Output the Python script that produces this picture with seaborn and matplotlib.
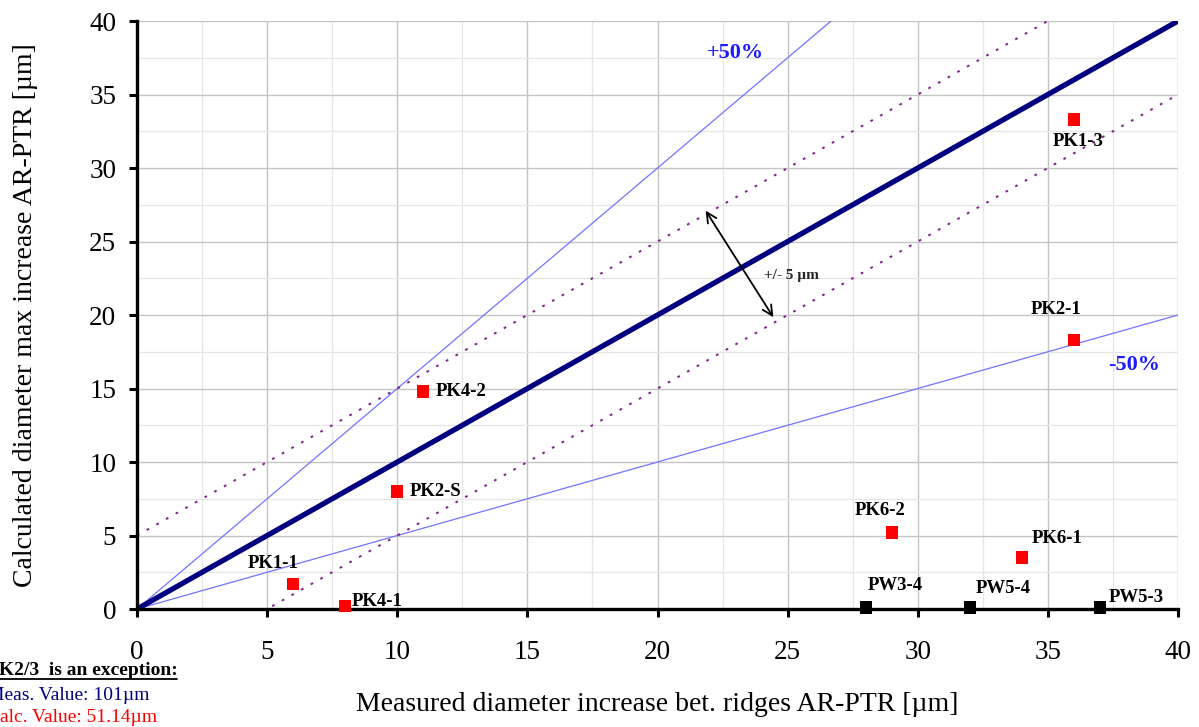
import matplotlib
matplotlib.use("Agg")
import matplotlib.pyplot as plt
from matplotlib.lines import Line2D
import numpy as np
import pandas as pd
import seaborn as sns

# Sample measurements: measured vs calculated diameter increase [µm]
labels = ["PK1-1", "PK4-1", "PK2-S", "PK4-2", "PK6-2", "PK6-1", "PK2-1", "PK1-3",
          "PW3-4", "PW5-4", "PW5-3"]
measured = [6, 8, 10, 11, 29, 34, 36, 36, 28, 32, 37]
calculated = [1.7, 0.2, 8.0, 14.8, 5.2, 3.5, 18.3, 33.3, 0.1, 0.1, 0.1]
series = ["PK"] * 8 + ["PW"] * 3

# Reference lines: ideal, +/-50 %, +/-5 µm band
ref_x = [0, 40]
ideal = [0, 40]
plus50_x, plus50_y = [0, 40], [0, 60]
minus50_x, minus50_y = [0, 40], [0, 20]
band_x = [0, 40]
band_hi = [5, 45]
band_lo = [-5, 35]

df = pd.DataFrame({"label": labels, "meas": measured, "calc": calculated, "series": series})

sns.set_theme(style="white")
plt.rcParams["font.family"] = ["Liberation Serif", "DejaVu Serif"]

fig = plt.figure(figsize=(11.99, 7.27), dpi=100)
ax = fig.add_axes([0.1143, 0.1623, 0.9825 - 0.1143, 0.9711 - 0.1623])

# grid
ax.set_xticks(np.arange(0, 41, 5))
ax.set_yticks(np.arange(0, 41, 5))
ax.set_xticks(np.arange(0, 41, 2.5), minor=True)
ax.set_yticks(np.arange(0, 41, 2.5), minor=True)
ax.grid(True, which="major", color="#c4c4c4", lw=1.0, zorder=0)
ax.grid(True, which="minor", color="#e6e6e6", lw=0.9, zorder=0)
ax.set_axisbelow(True)

sns.lineplot(x=plus50_x, y=plus50_y, color="#7373ff", lw=0.9, ax=ax, zorder=2)
sns.lineplot(x=minus50_x, y=minus50_y, color="#7373ff", lw=0.9, ax=ax, zorder=2)
sns.lineplot(x=band_x, y=band_hi, color="#80208a", lw=1.4, ax=ax, zorder=2,
             linestyle=(0, (1.4, 4.3)))
sns.lineplot(x=band_x, y=band_lo, color="#80208a", lw=1.4, ax=ax, zorder=2,
             linestyle=(0, (1.4, 4.3)))
sns.lineplot(x=ref_x, y=ideal, color="#000080", lw=3.8, ax=ax, zorder=3)

sns.scatterplot(data=df, x="meas", y="calc", hue="series",
                palette={"PK": "#ff0000", "PW": "#000000"},
                marker="s", s=78, linewidth=0, legend=False, ax=ax, zorder=5,
                clip_on=False)

# point labels: left-edge offsets from the marker, in points
offsets = {
    "PK1-1": (-33, 15), "PK4-1": (5, 3), "PK2-S": (9, 0), "PK4-2": (9, 0),
    "PK6-2": (-27, 16), "PK6-1": (7, 14), "PK2-1": (-31, 22), "PK1-3": (-15, -16),
    "PW3-4": (1.5, 16), "PW5-4": (4.5, 14), "PW5-3": (6, 7),
}
for lab, xv, yv in zip(labels, measured, calculated):
    dx, dy = offsets[lab]
    ax.annotate(lab, (xv, yv), xytext=(dx, dy), textcoords="offset points",
                ha="left", va="center", fontsize=13.5, fontweight="bold", color="black",
                zorder=6, annotation_clip=False)

# +/- 5 µm arrow
ax.annotate("", xy=(21.85, 27.1), xytext=(24.45, 19.85),
            arrowprops=dict(arrowstyle="<->,head_length=0.6,head_width=0.3",
                            color="black", lw=1.3, shrinkA=0, shrinkB=0), zorder=6)
ax.text(24.1, 22.7, "+/- 5 µm", fontsize=11, fontweight="bold", ha="left", va="center")

ax.text(23.0, 37.8, "+50%", fontsize=16, fontweight="bold", color="#1a1aff",
        ha="center", va="center")
ax.text(38.3, 16.6, "-50%", fontsize=16, fontweight="bold", color="#1a1aff",
        ha="center", va="center")

ax.set_xlim(0, 40)
ax.set_ylim(0, 40)
ax.set_xlabel("Measured diameter increase bet. ridges AR-PTR [µm]", fontsize=20,
              color="black", labelpad=20)
ax.set_ylabel("Calculated diameter max increase AR-PTR [µm]", fontsize=20,
              color="black", labelpad=37)

for side in ("top", "right"):
    ax.spines[side].set_visible(False)
for side in ("left", "bottom"):
    ax.spines[side].set_color("black")
    ax.spines[side].set_linewidth(2.4)
    ax.spines[side].set_zorder(4)
ax.tick_params(axis="both", which="major", direction="out", length=6, width=2.2,
               color="black", labelsize=19.5, labelcolor="black", bottom=True, left=True)
ax.tick_params(axis="both", which="minor", length=0)
ax.tick_params(axis="x", pad=16)
ax.tick_params(axis="y", pad=9)

# note on the exceptional sample, bottom left
fig.text(-0.011, 0.0715, "PK2/3  is an exception:", fontsize=14, fontweight="bold",
         color="black", ha="left", va="baseline")
fig.add_artist(Line2D([0.0, 0.148], [0.066, 0.066], color="black", lw=1.3,
                      transform=fig.transFigure))
fig.text(-0.011, 0.037, "Meas. Value: 101µm", fontsize=14, color="#000080",
         ha="left", va="baseline")
fig.text(-0.011, 0.007, "Calc. Value: 51.14µm", fontsize=14, color="#ff0000",
         ha="left", va="baseline")

fig.savefig("out.png", dpi=100)
